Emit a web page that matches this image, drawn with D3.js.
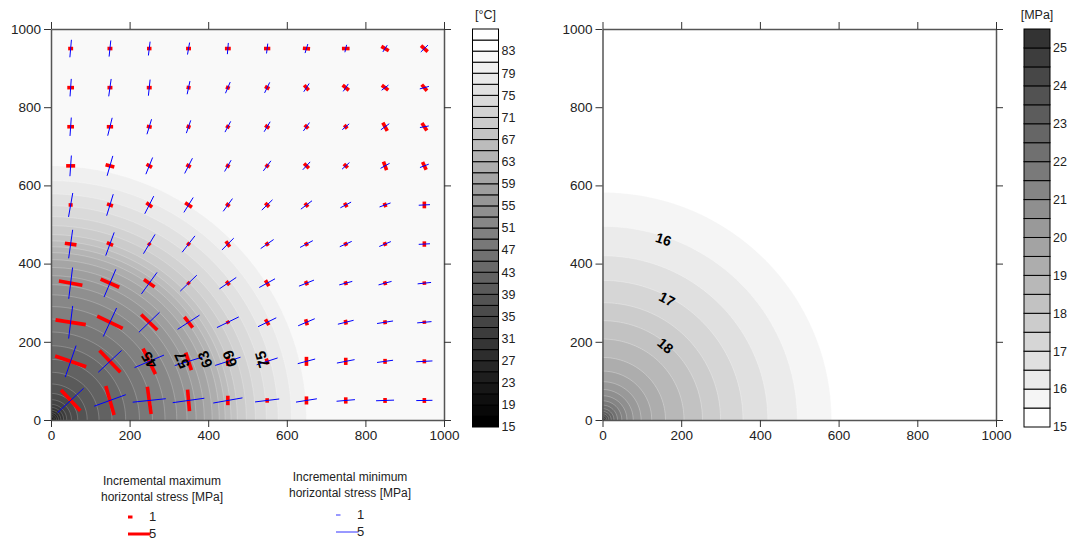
<!DOCTYPE html>
<html>
<head>
<meta charset="utf-8">
<script src="https://cdn.jsdelivr.net/npm/d3@7"></script>
<style>
  body { margin: 0; background: #fff; }
  text { font-family: "Liberation Sans", Arial, sans-serif; }
</style>
</head>
<body>
<div id="chart"></div>
<script>
// grid of stress glyphs (x and y positions in model units)
const gridX = [50, 150, 250, 350, 450, 550, 650, 750, 850, 950];
const gridY = [50, 150, 250, 350, 450, 550, 650, 750, 850, 950];

// incremental minimum horizontal stress [MPa], rows = gridY, cols = gridX
const minStress = [
  [7.9, 7.5, 7.4, 7.1, 6.6, 5.4, 4.7, 4.1, 4.0, 3.6],
  [7.4, 7.1, 7.1, 6.4, 5.9, 4.9, 4.0, 4.0, 3.6, 3.6],
  [7.3, 7.0, 6.4, 5.8, 5.4, 4.5, 4.0, 3.6, 3.6, 3.2],
  [7.0, 6.7, 5.9, 5.1, 4.5, 4.0, 3.6, 3.0, 3.0, 3.0],
  [6.4, 5.5, 5.0, 4.6, 3.7, 3.5, 3.2, 2.9, 2.8, 2.5],
  [5.4, 5.0, 4.4, 3.9, 3.5, 3.3, 3.1, 2.7, 2.6, 2.5],
  [4.6, 4.6, 4.0, 3.8, 2.9, 2.8, 2.4, 2.2, 2.3, 2.1],
  [4.1, 4.1, 3.5, 3.0, 2.7, 2.6, 2.3, 2.0, 2.3, 2.0],
  [3.9, 3.9, 3.6, 3.0, 2.7, 2.6, 2.2, 2.0, 1.9, 2.1],
  [3.9, 3.6, 3.1, 2.7, 2.5, 2.2, 2.1, 1.7, 1.8, 2.2]
];
// direction of minimum stress, degrees counter-clockwise from x axis
const minAngle = [
  [43, 20, 6, 8, 10, 7, 9, 5, 2, 1],
  [71, 43, 23, 17, 18, 18, 15, 11, 8, 3],
  [83, 65, 44, 33, 26, 26, 23, 14, 9, 5],
  [83, 67, 54, 44, 34, 29, 22, 15, 15, 6],
  [82, 70, 59, 52, 45, 35, 28, 24, 23, 3],
  [80, 73, 63, 58, 54, 44, 37, 28, 20, 3],
  [86, 74, 68, 63, 60, 53, 47, 42, 29, 21],
  [86, 76, 73, 71, 62, 59, 54, 40, 36, 10],
  [86, 82, 84, 78, 67, 64, 57, 56, 37, 15],
  [85, 84, 83, 80, 85, 83, 73, 77, 57, 44]
];
// incremental maximum horizontal stress [MPa]
const maxStress = [
  [6.3, 6.7, 6.1, 4.8, 2.1, 1.0, 1.8, 1.4, 1.1, 1.1],
  [7.3, 6.7, 6.3, 4.1, 2.0, 1.3, 2.0, 1.6, 1.1, 0.9],
  [6.8, 6.3, 5.0, 3.0, 0.7, 1.5, 1.4, 1.1, 0.9, 0.7],
  [5.3, 4.5, 2.9, 0.7, 1.1, 1.5, 1.0, 0.9, 0.9, 0.8],
  [2.6, 1.5, 0.7, 0.8, 1.5, 0.9, 0.9, 0.9, 0.9, 1.2],
  [0.9, 1.4, 1.6, 1.8, 1.0, 1.2, 1.1, 1.1, 1.0, 1.5],
  [2.0, 2.0, 1.4, 1.1, 0.9, 0.9, 1.5, 1.2, 2.0, 1.9],
  [1.5, 1.4, 1.1, 0.9, 0.9, 1.1, 1.1, 1.0, 2.1, 2.0],
  [1.5, 1.1, 1.1, 0.9, 0.9, 1.1, 1.5, 1.8, 1.8, 1.8],
  [1.1, 1.1, 1.0, 1.1, 1.3, 1.4, 1.6, 1.7, 1.9, 2.0]
];
const maxAngle = [
  [-47, -74, -82, -85, 90, 90, 90, 90, 90, 90],
  [-19, -46, -64, -72, 90, -70, 90, 90, 90, 90],
  [-9, -26, -44, -52, -60, -60, -75, -80, -85, -85],
  [-10, -24, -35, -45, -50, -60, -65, -75, -75, -85],
  [-8, -24, -45, -40, -55, -55, -60, -65, -70, 90],
  [0, -20, -37, -33, -40, -45, -50, -60, -70, 90],
  [0, -15, -30, -30, -30, -40, -45, -45, -70, -65],
  [0, 0, -10, -20, -30, -35, -45, -50, -62, -57],
  [0, 0, 0, -10, -20, -30, -50, -40, -37, -50],
  [0, 0, 0, 0, 0, 0, -5, 0, -30, -42]
];

// temperature contour levels [°C] and the radius where each one sits
const tempLevels = [17, 19, 21, 23, 25, 27, 29, 31, 33, 35, 37, 39, 41, 43, 45, 47, 49,
  51, 53, 55, 57, 59, 61, 63, 65, 67, 69, 71, 73, 75, 77, 79, 81];
const tempRadius = [2, 4, 7, 10, 14, 19, 25, 32, 40, 52, 68, 92, 122, 155, 190, 225, 258,
  290, 320, 346, 369, 390, 410, 428, 443, 458, 474, 497, 520, 548, 578, 612, 650];
const tempBarTicks = [15, 19, 23, 27, 31, 35, 39, 43, 47, 51, 55, 59, 63, 67, 71, 75, 79, 83];
const tempLabels = ["45", "57", "63", "69", "75"];
const tempLabelX = [250, 333, 392, 455, 537];
const tempLabelY = [153, 153, 155, 157, 155];

// stress contour levels [MPa] and radius of each
const stressLevels = [15.5, 16, 16.5, 17, 17.5, 18, 18.5, 19, 19.5, 20, 20.5, 21, 21.5,
  22, 22.5, 23, 23.5, 24, 24.5, 25];
const stressRadius = [582, 495, 420, 357, 300, 254, 207, 160, 125, 98, 78, 62, 49,
  38, 29, 22, 16, 11, 7, 4];
const stressBarTicks = [15, 16, 17, 18, 19, 20, 21, 22, 23, 24, 25];
const stressLabels = ["16", "17", "18"];
const stressLabelX = [155, 164, 160];
const stressLabelY = [462, 309, 190];

const axisTicks = [0, 200, 400, 600, 800, 1000];

const width = 1073;
const height = 540;

const svg = d3.select("#chart").append("svg")
  .attr("width", width)
  .attr("height", height);

const xL = d3.scaleLinear().domain([0, 1000]).range([51, 444]);
const xR = d3.scaleLinear().domain([0, 1000]).range([602.5, 996]);
const y = d3.scaleLinear().domain([0, 1000]).range([420, 29]);

const tempGray = (v) => {
  const g = Math.round(Math.min(255, (v - 15) / 68 * 255));
  return d3.rgb(g, g, g).toString();
};
const stressGray = (v) => {
  const g = Math.round(255 - (v - 15) / 0.5 * 10.2);
  return d3.rgb(g, g, g).toString();
};

const rad = Math.PI / 180;
function quarterPts(sx, r) {
  return d3.range(0, 90.01, 1.5).map((a) => [sx(r * Math.cos(a * rad)), y(r * Math.sin(a * rad))]);
}
function quarterArea(sx, r) {
  return "M" + sx(0) + "," + y(0) + "L" + quarterPts(sx, r).join("L") + "Z";
}
function quarterLine(sx, r) {
  return "M" + quarterPts(sx, r).join("L");
}

// ---------- left panel: temperature ----------
const left = svg.append("g");
svg.append("clipPath").attr("id", "clipL").append("rect")
  .attr("x", xL(0)).attr("y", y(1000)).attr("width", xL(1000) - xL(0)).attr("height", y(0) - y(1000));

const bandsL = left.append("g").attr("clip-path", "url(#clipL)");
bandsL.append("rect")
  .attr("x", xL(0)).attr("y", y(1000)).attr("width", xL(1000) - xL(0)).attr("height", y(0) - y(1000))
  .attr("fill", "#f9f9f9");

const tempIdx = d3.range(tempLevels.length).reverse();
bandsL.selectAll("path.band")
  .data(tempIdx)
  .join("path")
  .attr("class", "band")
  .attr("d", (i) => quarterArea(xL, tempRadius[i]))
  .attr("fill", (i) => tempGray(tempLevels[i] - 2));
bandsL.selectAll("path.iso")
  .data(tempIdx)
  .join("path")
  .attr("class", "iso")
  .attr("d", (i) => quarterLine(xL, tempRadius[i]))
  .attr("fill", "none")
  .attr("stroke", "#fff")
  .attr("stroke-opacity", 0.3)
  .attr("stroke-width", 0.7);

// stress glyphs
const glyphLen = d3.scaleLinear().domain([0, 1]).range([0, 4.5]); // px per MPa
const cells = [];
gridY.forEach((gy, j) => gridX.forEach((gx, i) => cells.push({ gx, gy, i, j })));

function seg(d, len, ang) {
  const h = glyphLen(len) / 2;
  const cx = xL(d.gx), cy = y(d.gy);
  const dx = Math.cos(ang * rad) * h, dy = -Math.sin(ang * rad) * h;
  return { x1: cx - dx, y1: cy - dy, x2: cx + dx, y2: cy + dy };
}

left.append("g").selectAll("line")
  .data(cells.map((d) => seg(d, maxStress[d.j][d.i], maxAngle[d.j][d.i])))
  .join("line")
  .attr("x1", (s) => s.x1).attr("y1", (s) => s.y1)
  .attr("x2", (s) => s.x2).attr("y2", (s) => s.y2)
  .attr("stroke", "#ff0000")
  .attr("stroke-width", 3.6);

left.append("g").selectAll("line")
  .data(cells.map((d) => seg(d, minStress[d.j][d.i], minAngle[d.j][d.i])))
  .join("line")
  .attr("x1", (s) => s.x1).attr("y1", (s) => s.y1)
  .attr("x2", (s) => s.x2).attr("y2", (s) => s.y2)
  .attr("stroke", "#0000ff")
  .attr("stroke-width", 1);

// contour labels, turned along the isotherm
left.append("g").selectAll("text")
  .data(tempLabels)
  .join("text")
  .attr("transform", (t, k) => {
    const th = Math.atan2(tempLabelY[k], tempLabelX[k]) / rad;
    return `translate(${xL(tempLabelX[k])},${y(tempLabelY[k])}) rotate(${-(90 + th)})`;
  })
  .attr("text-anchor", "middle")
  .attr("dy", "0.35em")
  .style("font-size", "15px")
  .style("font-weight", "bold")
  .attr("fill", "#000")
  .text((t) => t);

// ---------- right panel: stress ----------
const right = svg.append("g");
svg.append("clipPath").attr("id", "clipR").append("rect")
  .attr("x", xR(0)).attr("y", y(1000)).attr("width", xR(1000) - xR(0)).attr("height", y(0) - y(1000));
const bandsR = right.append("g").attr("clip-path", "url(#clipR)");
bandsR.append("rect")
  .attr("x", xR(0)).attr("y", y(1000)).attr("width", xR(1000) - xR(0)).attr("height", y(0) - y(1000))
  .attr("fill", "#fff");

const stressIdx = d3.range(stressLevels.length);
bandsR.selectAll("path.band")
  .data(stressIdx)
  .join("path")
  .attr("class", "band")
  .attr("d", (i) => quarterArea(xR, stressRadius[i]))
  .attr("fill", (i) => stressGray(stressLevels[i]));
bandsR.selectAll("path.iso")
  .data(stressIdx)
  .join("path")
  .attr("class", "iso")
  .attr("d", (i) => quarterLine(xR, stressRadius[i]))
  .attr("fill", "none")
  .attr("stroke", "#fff")
  .attr("stroke-opacity", 0.4)
  .attr("stroke-width", 0.7);

right.append("g").selectAll("text")
  .data(stressLabels)
  .join("text")
  .attr("transform", (t, k) => {
    const th = Math.atan2(stressLabelY[k], stressLabelX[k]) / rad;
    return `translate(${xR(stressLabelX[k])},${y(stressLabelY[k])}) rotate(${90 - th})`;
  })
  .attr("text-anchor", "middle")
  .attr("dy", "0.35em")
  .style("font-size", "14px")
  .style("font-weight", "bold")
  .attr("fill", "#000")
  .text((t) => t);

// ---------- frames ----------
function frame(g, sx) {
  const style = (a) => {
    a.selectAll("text").style("font-size", "13.5px").style("font-family", '"Liberation Sans", Arial, sans-serif').attr("fill", "#222");
    a.select(".domain").attr("stroke", "#555").attr("stroke-width", 1.5);
    a.selectAll(".tick line").attr("stroke", "#333");
  };
  const fmt = d3.format("d");
  g.append("g").attr("transform", `translate(0,${y(0)})`)
    .call(d3.axisBottom(sx).tickValues(axisTicks).tickFormat(fmt).tickSize(7).tickSizeOuter(0)).call(style);
  g.append("g").attr("transform", `translate(${sx(0)},0)`)
    .call(d3.axisLeft(y).tickValues(axisTicks).tickFormat(fmt).tickSize(7).tickSizeOuter(0)).call(style);
  g.append("g").attr("transform", `translate(0,${y(1000)})`)
    .call(d3.axisTop(sx).tickValues(axisTicks).tickSize(7).tickSizeOuter(0).tickFormat("")).call(style);
  g.append("g").attr("transform", `translate(${sx(1000)},0)`)
    .call(d3.axisRight(y).tickValues(axisTicks).tickSize(7).tickSizeOuter(0).tickFormat("")).call(style);
}
frame(left, xL);
frame(right, xR);

// ---------- colour bars ----------
function colorBar(x0, levels, step, top, gray, ticks, unit) {
  const cy = d3.scaleLinear().domain([levels[0], top]).range([427, 29]);
  const g = svg.append("g");
  const lows = d3.range(levels[0], top - 1e-9, step);
  g.selectAll("rect")
    .data(lows)
    .join("rect")
    .attr("x", x0)
    .attr("width", 26)
    .attr("y", (v) => cy(v + step))
    .attr("height", (v) => cy(v) - cy(v + step))
    .attr("fill", (v) => gray(v))
    .attr("stroke", "#000")
    .attr("stroke-width", 1);
  g.selectAll("text.tick")
    .data(ticks)
    .join("text")
    .attr("class", "tick")
    .attr("x", x0 + 29)
    .attr("y", (v) => cy(v))
    .attr("dy", "0.35em")
    .style("font-size", "12.5px")
    .attr("fill", "#222")
    .text((v) => v);
  g.append("text")
    .attr("x", x0 + 13)
    .attr("y", 19)
    .attr("text-anchor", "middle")
    .style("font-size", "12.5px")
    .attr("fill", "#222")
    .text(unit);
}
colorBar(472.5, tempLevels.map((v) => v - 2), 2, 87, tempGray, tempBarTicks, "[°C]");
colorBar(1024, stressLevels.map((v) => v - 0.5), 0.5, 25.5, stressGray, stressBarTicks, "[MPa]");

// ---------- legend ----------
const legend = svg.append("g").style("font-size", "12px").attr("fill", "#222");
function legendBlock(cx, ty, lines, color, w, lx, ly) {
  legend.append("text").attr("x", cx).attr("y", ty).attr("text-anchor", "middle").text(lines[0]);
  legend.append("text").attr("x", cx).attr("y", ty + 16).attr("text-anchor", "middle").text(lines[1]);
  [1, 5].forEach((v, k) => {
    legend.append("line")
      .attr("x1", lx).attr("x2", lx + glyphLen(v))
      .attr("y1", ly[k]).attr("y2", ly[k])
      .attr("stroke", color).attr("stroke-width", w);
    legend.append("text").attr("x", lx + 21).attr("y", ly[k] + 4).style("font-size", "13px").text(v);
  });
}
legendBlock(162, 485, ["Incremental maximum", "horizontal stress [MPa]"], "#ff0000", 3, 128, [517, 534]);
legendBlock(350, 481, ["Incremental minimum", "horizontal stress [MPa]"], "#3333ff", 1, 336, [515, 532]);
</script>
</body>
</html>
